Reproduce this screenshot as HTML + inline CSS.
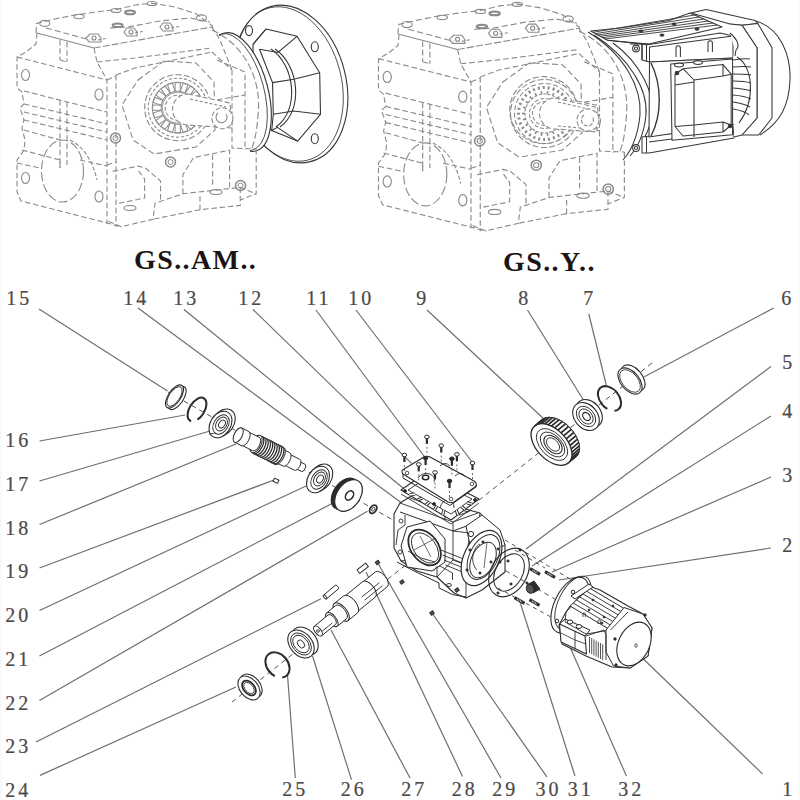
<!DOCTYPE html>
<html><head><meta charset="utf-8"><style>
html,body{margin:0;padding:0;background:#fff;}
svg{display:block;}
.lb{font-family:"Liberation Serif",serif;font-size:20px;fill:#4d4848;letter-spacing:3px;}
.ld{stroke:#716d6d;stroke-width:1.2;fill:none;}
.lb{stroke:#4d4848;stroke-width:0.2;}
.tt{font-family:"Liberation Serif",serif;font-size:28px;font-weight:bold;fill:#1c1414;letter-spacing:1.4px;}
</style></head><body>
<svg width="800" height="800" viewBox="0 0 800 800">

<text class="lb" x="6.2" y="305.2">15</text>
<text class="lb" x="123.2" y="305.2">14</text>
<text class="lb" x="173.2" y="305.2">13</text>
<text class="lb" x="238.2" y="305.2">12</text>
<text class="lb" x="306.2" y="305.2">11</text>
<text class="lb" x="348.2" y="305.2">10</text>
<text class="lb" x="416.2" y="305.2">9</text>
<text class="lb" x="518.2" y="305.2">8</text>
<text class="lb" x="583.2" y="305.2">7</text>
<text class="lb" x="781.2" y="305.2">6</text>
<text class="lb" x="782.2" y="369.0">5</text>
<text class="lb" x="782.2" y="417.7">4</text>
<text class="lb" x="782.2" y="482.2">3</text>
<text class="lb" x="782.2" y="552.2">2</text>
<text class="lb" x="5.2" y="447.2">16</text>
<text class="lb" x="5.2" y="491.0">17</text>
<text class="lb" x="5.2" y="534.7">18</text>
<text class="lb" x="5.2" y="578.2">19</text>
<text class="lb" x="5.2" y="621.7">20</text>
<text class="lb" x="5.2" y="666.2">21</text>
<text class="lb" x="5.2" y="709.8000000000001">22</text>
<text class="lb" x="5.2" y="753.2">23</text>
<text class="lb" x="5.2" y="797.0">24</text>
<text class="lb" x="282.2" y="796.2">25</text>
<text class="lb" x="340.7" y="796.2">26</text>
<text class="lb" x="401.2" y="796.2">27</text>
<text class="lb" x="451.7" y="796.2">28</text>
<text class="lb" x="492.2" y="796.2">29</text>
<text class="lb" x="535.6" y="796.2">30</text>
<text class="lb" x="567.8000000000001" y="796.2">31</text>
<text class="lb" x="618.2" y="796.2">32</text>
<text class="lb" x="782.2" y="796.2">1</text>
<line class="ld" x1="39" y1="309" x2="167.5" y2="391"/>
<line class="ld" x1="138" y1="308" x2="400.3" y2="501.9"/>
<line class="ld" x1="184" y1="309.5" x2="404" y2="488.75"/>
<line class="ld" x1="253" y1="309.5" x2="411.6" y2="463.4"/>
<line class="ld" x1="316" y1="310" x2="424.7" y2="457"/>
<line class="ld" x1="356" y1="310" x2="472.5" y2="462.5"/>
<line class="ld" x1="427" y1="310" x2="545" y2="420"/>
<line class="ld" x1="527.5" y1="310" x2="585" y2="402.5"/>
<line class="ld" x1="588.75" y1="313.75" x2="606.25" y2="385"/>
<line class="ld" x1="773.7" y1="308" x2="644.4" y2="376.7"/>
<line class="ld" x1="771" y1="366.5" x2="526" y2="549"/>
<line class="ld" x1="771" y1="416" x2="532" y2="566"/>
<line class="ld" x1="771" y1="477" x2="552" y2="572"/>
<line class="ld" x1="771" y1="548" x2="559" y2="580"/>
<line class="ld" x1="39.5" y1="441" x2="185" y2="415"/>
<line class="ld" x1="39.5" y1="481" x2="210" y2="431"/>
<line class="ld" x1="39.5" y1="524.5" x2="236" y2="444"/>
<line class="ld" x1="39.5" y1="568" x2="274" y2="480"/>
<line class="ld" x1="39.5" y1="610.5" x2="306" y2="486"/>
<line class="ld" x1="39.4" y1="656" x2="334" y2="502.5"/>
<line class="ld" x1="39.4" y1="700.4" x2="367.5" y2="511.25"/>
<line class="ld" x1="36" y1="742" x2="321" y2="598.75"/>
<line class="ld" x1="40" y1="775.4" x2="236" y2="687"/>
<line class="ld" x1="295.3" y1="778" x2="287.5" y2="675"/>
<line class="ld" x1="351.5" y1="779.7" x2="312.5" y2="656"/>
<line class="ld" x1="410" y1="778" x2="331" y2="630"/>
<line class="ld" x1="462.5" y1="776.5" x2="366" y2="572"/>
<line class="ld" x1="501" y1="778" x2="377.5" y2="562.5"/>
<line class="ld" x1="546.9" y1="776.9" x2="432" y2="613"/>
<line class="ld" x1="575" y1="776" x2="520" y2="602"/>
<line class="ld" x1="626.4" y1="776" x2="560" y2="624"/>
<line class="ld" x1="762.5" y1="773.9" x2="632" y2="648"/>
<!-- edge strips --><rect x="0" y="0" width="2" height="800" fill="#f9f9f9"/><rect x="798" y="0" width="2" height="800" fill="#f9f9f9"/>
<g fill="none" stroke="#3a3535" stroke-width="1.1">
<ellipse cx="291" cy="84" rx="55" ry="80" transform="rotate(-14 291 84)" fill="#fff"/>
<ellipse cx="288.5" cy="84" rx="53" ry="78.5" transform="rotate(-14 288.5 84)" stroke-width="0.8"/>
<ellipse cx="249" cy="30.6" rx="3.5" ry="5"/>
<ellipse cx="314.8" cy="46.8" rx="3.5" ry="5"/>
<ellipse cx="314.8" cy="138.7" rx="3.5" ry="5"/>
<polygon points="266,29 297,36.3 319.7,72.8 320.5,114.3 297.7,141.1 271.7,130.6 253,110 253,44.4" fill="#fff"/>
<polyline points="297,36.3 278,52.5 259.5,49.3"/>
<polyline points="319.7,72.8 293.7,79.3 272.5,82.6"/>
<polyline points="320.5,114.3 293.7,111 273.3,114.3"/>
<polyline points="297.7,141.1 277.4,127.3 271.7,130.6"/>
<polyline points="266,29 253,44.4"/>
<path d="M271,49 C295,65 300,110 276,127"/>
<path d="M275,49 C299,65 304,110 280,127"/>
<polyline points="259.5,49.3 272.5,82.6 273.3,114.3 271.7,130.6"/>
<ellipse cx="240" cy="92" rx="28" ry="61" transform="rotate(-15 240 92)" fill="#fff" stroke="none"/>
<ellipse cx="240" cy="92" rx="28" ry="61" transform="rotate(-15 240 92)" pathLength="100" stroke-dasharray="27 46 27"/>
<ellipse cx="237" cy="92" rx="27" ry="60" transform="rotate(-15 237 92)" pathLength="100" stroke-dasharray="26 48 26" stroke-width="0.8"/>
</g>
<g id="gb" fill="none" stroke="#8a8a8a" stroke-width="1.1" stroke-dasharray="5.5 2.8">
<!-- top face -->
<polyline stroke-dasharray="none" points="37,33 94,48"/>
<polyline stroke-dasharray="7 2" points="94,48 212,27"/>
<polyline stroke-dasharray="6 3" points="36,33 36.5,23.4 55,19 75,15 96,12 116,9.6 135,5 152,3.3 175,7 196,13.75 212.5,26 212.5,28"/>
<polyline stroke-dasharray="6 3" points="46,28 72,35 90,40"/>
<polyline stroke-dasharray="6 3" points="110,28 128,27 160,21 190,18 210,22"/>
<ellipse cx="44.75" cy="23.4" rx="5" ry="3" stroke-dasharray="none"/>
<ellipse cx="79" cy="16.5" rx="5" ry="2.2" stroke-dasharray="none"/>
<ellipse cx="116" cy="10.5" rx="5" ry="2" stroke-dasharray="none"/>
<ellipse cx="152" cy="3.5" rx="5" ry="2" stroke-dasharray="none"/>
<ellipse cx="201.5" cy="17.9" rx="5" ry="3" stroke-dasharray="none"/>
<ellipse cx="117.6" cy="25.3" rx="5" ry="1.8" stroke-dasharray="none" stroke-width="2"/>
<ellipse cx="130" cy="12.4" rx="5" ry="1.8" stroke-dasharray="none" stroke-width="2"/>
<path d="M86,38 l4,-4 h8 l3,4 v4 h-12 z" stroke-dasharray="none"/>
<path d="M124,32 l3,-4 h7 l3,4 v4 h-10 z" stroke-dasharray="none"/>
<path d="M160,27 l3,-4 h7 l3,4 v4 h-10 z" stroke-dasharray="none"/>
<circle cx="94" cy="38" r="2" stroke-dasharray="none"/>
<circle cx="131" cy="32" r="2" stroke-dasharray="none"/>
<circle cx="167" cy="27" r="2" stroke-dasharray="none"/>
<polyline points="98,40 108,38" stroke-dasharray="3 2"/>
<polyline points="135,33 145,31" stroke-dasharray="3 2"/>
<polyline points="171,28 181,26" stroke-dasharray="3 2"/>
<!-- left face -->
<polyline points="37,33 36,44 26,52 17,57 17,88 22,92 24,104 20,108 24,120 22,128 25,140 24,150 17,160 17,192 21,201 111,224 122,227"/>
<polyline points="17,57 107,80"/>
<polyline points="24,91 107,112"/>
<polyline points="24,104 107,124"/>
<polyline points="24,112 107,132"/>
<polyline points="24,120 107,140"/>
<polyline points="24,130 60,140"/>
<polyline points="22,150 60,160 60,168"/>
<polyline points="80,160 107,166"/>
<polyline points="17,163 40,168"/>
<polyline points="60,40 60,60"/>
<polyline points="67,42 67,62"/>
<polyline points="60,100 60,168"/>
<polyline points="67,102 67,165"/>
<polyline points="60,60 67,62"/>
<ellipse cx="25.5" cy="75" rx="4" ry="5.5" stroke-dasharray="none"/>
<ellipse cx="99" cy="94.5" rx="4" ry="5.5" stroke-dasharray="none"/>
<ellipse cx="25.5" cy="178" rx="4" ry="5.5" stroke-dasharray="none"/>
<ellipse cx="99" cy="196.5" rx="4" ry="5.5" stroke-dasharray="none"/>
<ellipse cx="62.5" cy="171" rx="21" ry="31" stroke-dasharray="9 3"/>
<path d="M70,140 q20,10 27,40" stroke-dasharray="4 2"/>
<!-- corner column -->
<polyline points="94,48 97,62 107,80 107,224"/>
<polyline points="116,75 116,227"/>
<polyline points="107,80 116,76"/>
<polyline points="107,165 116,162"/>
<!-- front face -->
<polyline points="116,75 135,68 212,52"/>
<polyline points="97,62 135,58 212,48"/>


<polyline points="112.75,171.4 138.25,166.1 145.7,168.25 153,174.6 160.5,181 160.5,200"/>
<polyline points="119,203.3 144.6,198 144.6,178.9 138,170"/>
<polyline points="108.5,221.4 121.25,226.7 153,219.25 155,203.3 182.9,193.75 240.25,187.4 256,193.75"/>
<polyline points="182.9,193.75 182.9,174.6 193.5,157.6 229.6,150.2 229.6,187.4"/>
<polyline points="212.6,154.4 212.6,187.4"/>
<polyline points="240.25,187.4 240.25,205.4 200,209.7 200,196"/>
<polyline points="200,209.7 153,219.25"/>
<polyline points="256.2,149 256.2,193.75 240.25,200"/>
<polyline points="232,70 232,148 256,149"/>
<polyline points="212,27 220,40 232,70"/>




<polyline points="212,52 232,70"/>
<polygon points="138,80 164,61 196,63 214,82 215,130 196,147 154,154 133,140 122,105" stroke-dasharray="6 3"/>
<circle cx="177.7" cy="107.7" r="33" stroke-dasharray="6 2.5"/>
<circle cx="177.7" cy="107.7" r="29.5" stroke-dasharray="3 2"/>
<circle cx="177.7" cy="107.7" r="25.5" stroke-dasharray="none" stroke-width="0.9"/>
<rect x="175.1" y="82.7" width="5.2" height="8.5" transform="rotate(0 177.7 107.7)" stroke-dasharray="none" stroke-width="1"/><rect x="175.1" y="82.7" width="5.2" height="8.5" transform="rotate(18 177.7 107.7)" stroke-dasharray="none" stroke-width="1"/><rect x="175.1" y="82.7" width="5.2" height="8.5" transform="rotate(36 177.7 107.7)" stroke-dasharray="none" stroke-width="1"/><rect x="175.1" y="82.7" width="5.2" height="8.5" transform="rotate(54 177.7 107.7)" stroke-dasharray="none" stroke-width="1"/><rect x="175.1" y="82.7" width="5.2" height="8.5" transform="rotate(72 177.7 107.7)" stroke-dasharray="none" stroke-width="1"/><rect x="175.1" y="82.7" width="5.2" height="8.5" transform="rotate(90 177.7 107.7)" stroke-dasharray="none" stroke-width="1"/><rect x="175.1" y="82.7" width="5.2" height="8.5" transform="rotate(108 177.7 107.7)" stroke-dasharray="none" stroke-width="1"/><rect x="175.1" y="82.7" width="5.2" height="8.5" transform="rotate(126 177.7 107.7)" stroke-dasharray="none" stroke-width="1"/><rect x="175.1" y="82.7" width="5.2" height="8.5" transform="rotate(144 177.7 107.7)" stroke-dasharray="none" stroke-width="1"/><rect x="175.1" y="82.7" width="5.2" height="8.5" transform="rotate(162 177.7 107.7)" stroke-dasharray="none" stroke-width="1"/><rect x="175.1" y="82.7" width="5.2" height="8.5" transform="rotate(180 177.7 107.7)" stroke-dasharray="none" stroke-width="1"/><rect x="175.1" y="82.7" width="5.2" height="8.5" transform="rotate(198 177.7 107.7)" stroke-dasharray="none" stroke-width="1"/><rect x="175.1" y="82.7" width="5.2" height="8.5" transform="rotate(216 177.7 107.7)" stroke-dasharray="none" stroke-width="1"/><rect x="175.1" y="82.7" width="5.2" height="8.5" transform="rotate(234 177.7 107.7)" stroke-dasharray="none" stroke-width="1"/><rect x="175.1" y="82.7" width="5.2" height="8.5" transform="rotate(252 177.7 107.7)" stroke-dasharray="none" stroke-width="1"/><rect x="175.1" y="82.7" width="5.2" height="8.5" transform="rotate(270 177.7 107.7)" stroke-dasharray="none" stroke-width="1"/><rect x="175.1" y="82.7" width="5.2" height="8.5" transform="rotate(288 177.7 107.7)" stroke-dasharray="none" stroke-width="1"/><rect x="175.1" y="82.7" width="5.2" height="8.5" transform="rotate(306 177.7 107.7)" stroke-dasharray="none" stroke-width="1"/><rect x="175.1" y="82.7" width="5.2" height="8.5" transform="rotate(324 177.7 107.7)" stroke-dasharray="none" stroke-width="1"/><rect x="175.1" y="82.7" width="5.2" height="8.5" transform="rotate(342 177.7 107.7)" stroke-dasharray="none" stroke-width="1"/>
<circle cx="177.7" cy="107.7" r="15.5" stroke-dasharray="none" stroke-width="0.9"/>
<circle cx="177.7" cy="107.7" r="12.5" stroke-dasharray="4 2"/>
<!-- shaft -->
<path d="M188,94 L230,103 L232,128 L188,125 A15.5,15.5 0 0 1 188,94 Z" fill="#fff" stroke-dasharray="5 2.5"/>
<polyline points="190,99 226,107" stroke-dasharray="3 2"/>
<circle cx="222.4" cy="118.3" r="10.5" fill="#fff" stroke-dasharray="5 2"/>
<path d="M218,113 A5.5,5.5 0 1 0 226,114" stroke-dasharray="none"/>
<!-- bosses -->
<circle cx="115.5" cy="138" r="5" stroke-dasharray="none" stroke-width="1.5"/>
<circle cx="115.5" cy="138" r="2.5" stroke-dasharray="none" stroke-width="1"/>
<circle cx="170.5" cy="162" r="5" stroke-dasharray="none" stroke-width="1.5"/>
<circle cx="170.5" cy="162" r="2.5" stroke-dasharray="none" stroke-width="1"/>
<circle cx="240.5" cy="185.5" r="5" stroke-dasharray="none" stroke-width="1.5"/>
<circle cx="240.5" cy="185.5" r="2.5" stroke-dasharray="none" stroke-width="1"/>
<ellipse cx="130" cy="208" rx="6" ry="2.5" stroke-dasharray="none"/>
<ellipse cx="216" cy="192" rx="6" ry="2.5" stroke-dasharray="none"/>
<!-- right arc -->
<path d="M212,30 C245,45 262,80 258,115 C257,130 255,140 252,148" stroke-dasharray="7 3"/>
<polyline points="217,60 245,72 245,150"/>
<polyline points="217,100 245,95"/>
</g>
<use href="#gb" transform="translate(361,0.8) scale(1.028 1.015)"/>
<g fill="none" stroke="#8a8a8a" stroke-width="1.1">
<circle cx="543.5" cy="111.5" r="32" fill="#fff" stroke="none"/>
<circle cx="544.5" cy="113.5" r="34" stroke-dasharray="6 2.5"/>
<circle cx="544.5" cy="113.5" r="30" stroke-dasharray="5 2.5"/>
<circle cx="544.5" cy="113.5" r="26" stroke-dasharray="2 3" stroke-width="3"/>
<circle cx="544.5" cy="113.5" r="19.5" stroke-dasharray="3 1.5"/>
<line x1="564.0" y1="113.5" x2="567.0" y2="113.5" stroke-width="1.6"/>
<line x1="563.2" y1="119.0" x2="566.1" y2="119.8" stroke-width="1.6"/>
<line x1="560.9" y1="124.0" x2="563.4" y2="125.7" stroke-width="1.6"/>
<line x1="557.3" y1="128.2" x2="559.2" y2="130.5" stroke-width="1.6"/>
<line x1="552.6" y1="131.2" x2="553.8" y2="134.0" stroke-width="1.6"/>
<line x1="547.3" y1="132.8" x2="547.7" y2="135.8" stroke-width="1.6"/>
<line x1="541.7" y1="132.8" x2="541.3" y2="135.8" stroke-width="1.6"/>
<line x1="536.4" y1="131.2" x2="535.2" y2="134.0" stroke-width="1.6"/>
<line x1="531.7" y1="128.2" x2="529.8" y2="130.5" stroke-width="1.6"/>
<line x1="528.1" y1="124.0" x2="525.6" y2="125.7" stroke-width="1.6"/>
<line x1="525.8" y1="119.0" x2="522.9" y2="119.8" stroke-width="1.6"/>
<line x1="525.0" y1="113.5" x2="522.0" y2="113.5" stroke-width="1.6"/>
<line x1="525.8" y1="108.0" x2="522.9" y2="107.2" stroke-width="1.6"/>
<line x1="528.1" y1="103.0" x2="525.6" y2="101.3" stroke-width="1.6"/>
<line x1="531.7" y1="98.8" x2="529.8" y2="96.5" stroke-width="1.6"/>
<line x1="536.4" y1="95.8" x2="535.2" y2="93.0" stroke-width="1.6"/>
<line x1="541.7" y1="94.2" x2="541.3" y2="91.2" stroke-width="1.6"/>
<line x1="547.3" y1="94.2" x2="547.7" y2="91.2" stroke-width="1.6"/>
<line x1="552.6" y1="95.8" x2="553.8" y2="93.0" stroke-width="1.6"/>
<line x1="557.3" y1="98.8" x2="559.2" y2="96.5" stroke-width="1.6"/>
<line x1="560.9" y1="103.0" x2="563.4" y2="101.3" stroke-width="1.6"/>
<line x1="563.2" y1="108.0" x2="566.1" y2="107.2" stroke-width="1.6"/>
<circle cx="544.5" cy="113.5" r="15" stroke-dasharray="4 2"/>
<circle cx="544.5" cy="113.5" r="12" stroke-dasharray="4 2"/>
<path d="M555,98 L595,107 L597,132 L555,129 A15.5,15.5 0 0 1 555,98 Z" fill="#fff" stroke-dasharray="5 2.5"/>
<polyline points="558,102 592,110" stroke-dasharray="3 2"/>
<polyline points="558,126 592,129" stroke-dasharray="3 2"/>
<circle cx="588" cy="120" r="11" fill="#fff" stroke-dasharray="5 2"/>
<path d="M584,115 A6,6 0 1 0 592,116" stroke-dasharray="4 1.5"/>
</g><g fill="none" stroke="#3a3535" stroke-width="1.05" stroke-linejoin="round">
<!-- flange disc -->
<path d="M588,32 C625,55 642,88 640,115 C638,135 632,150 623,160 L700,160 L700,20 Z" fill="#fff" stroke="none"/>
<path d="M588,32 C625,55 642,88 640,115 C638,135 632,150 623,160"/>
<path d="M594,35 C630,58 648,90 646,115 C644,135 638,147 630,156"/>
<path d="M613,43 C642,64 654,95 652,112 C651,124 648,132 644,138"/>
<!-- top fins surface -->
<polygon points="590.6,31 620.6,28 669,20.6 690,13 722,27 648.75,44 607.5,40.3" fill="#fff"/>
<line x1="593.0" y1="32.3" x2="694.6" y2="15.0" stroke-width="0.9"/>
<line x1="595.4" y1="33.7" x2="699.1" y2="17.0" stroke-width="0.9"/>
<line x1="597.8" y1="35.0" x2="703.7" y2="19.0" stroke-width="0.9"/>
<line x1="600.3" y1="36.3" x2="708.3" y2="21.0" stroke-width="0.9"/>
<line x1="602.7" y1="37.6" x2="712.9" y2="23.0" stroke-width="0.9"/>
<line x1="605.1" y1="39.0" x2="717.4" y2="25.0" stroke-width="0.9"/>
<polyline points="607.5,40.3 641,44 648.75,44"/>
<ellipse cx="641" cy="31" rx="2" ry="1.1" fill="#333"/>
<ellipse cx="674" cy="24" rx="2" ry="1.1" fill="#333"/>
<ellipse cx="662" cy="35" rx="2" ry="1.1" fill="#333"/>
<ellipse cx="697" cy="29" rx="2" ry="1.1" fill="#333"/>
<!-- frame front face -->
<polygon points="642,44 646.5,45 720,33 733,36 733,58 649.5,62 642,60" fill="#fff"/>
<line x1="646.5" y1="45" x2="646.5" y2="62"/>
<line x1="649.5" y1="47" x2="649.5" y2="62"/>
<line x1="649.5" y1="47" x2="733" y2="36"/>
<path d="M676,57 v-9 a2.2,2.2 0 0 1 4.4,0 v9"/>
<path d="M708,52 v-9 a2.2,2.2 0 0 1 4.4,0 v9"/>
<circle cx="636" cy="48.5" r="3.4" fill="#fff"/>
<circle cx="636" cy="48.5" r="1.6"/>
<polyline points="630,44 642,44 642,60"/>
<!-- lower frame -->
<polygon points="642,137 733,126 734,138 649,153 642,153" fill="#fff"/>
<line x1="646.5" y1="137" x2="646.5" y2="153"/>
<circle cx="636" cy="148" r="3.4" fill="#fff"/>
<circle cx="636" cy="148" r="1.6"/>
<line x1="649" y1="142" x2="734" y2="131"/>
<!-- body between -->
<polygon points="649.5,62 733,58 736,124 649,137" fill="#fff"/>
<path d="M651,63 C662,85 662,115 651,136" stroke-width="1.4"/>
<!-- terminal box -->
<polygon points="670.7,64 732.6,59 732.6,134.7 672,140.2" fill="#fff"/>
<polygon points="675,74.2 683,68.7 723,64.6 731.2,74.2 731.2,125 723,132 683,136 675,126.5"/>
<polyline points="683,68.7 694,80 694,137"/>
<polyline points="694,80 723,76 731.2,74.2"/>
<polyline points="675,85 694,82"/>
<polyline points="694,125 723,122 731.2,125"/>
<polyline points="675,126.5 694,125"/>
<line x1="723" y1="64.6" x2="723" y2="76"/>
<line x1="723" y1="122" x2="723" y2="132"/>
<ellipse cx="679" cy="65" rx="4.5" ry="1.9" fill="#fff"/>
<ellipse cx="698" cy="62.5" rx="4.5" ry="1.9" fill="#fff"/>
<circle cx="677" cy="73" r="1.8" fill="#333"/>
<circle cx="730" cy="126" r="1.8" fill="#333"/>
<!-- fan cover -->
<path d="M756,21 C780,28 791,55 790,80 C789,105 781,122 760,135" fill="#fff"/>
<polygon points="691,13 706,9.4 755,20.6 757.8,23.4 742,25.3 730,24" fill="#fff"/>
<polygon points="742,25.3 757.8,23.4 772,47.8 772,118 758.7,135 742,135 757,118 757,47.8" fill="#fff"/>
<polygon points="730,24 742,25.3 757,47.8 757,118 742,135 734,138 733,58 735,50 730,33" fill="#fff" stroke="none"/>
<polyline points="742,25.3 757,47.8 757,118 742,135"/>
<polyline points="730,24 742,25.3"/>
<polyline points="734,137 742,135"/>
<!-- side fins -->
<path d="M733,60 q12,-2 17,-1"/>
<path d="M733,67 q12,-1 18,0"/>
<path d="M733,74 q12,0 18,1"/>
<path d="M733,81 q12,0 18,2"/>
<path d="M733,88 q12,1 18,3"/>
<path d="M733,95 q12,1 18,4"/>
<path d="M733,102 q12,2 17,5"/>
<path d="M733,109 q12,2 16,6"/>
<path d="M737,57 C753,66 756,100 739,123"/>
<path d="M730,33 C738,40 740,46 736,50 L735,56"/>
</g>
<g fill="none" stroke="#2e2a2a" stroke-width="1" stroke-linejoin="round">
<line x1="168" y1="392" x2="400" y2="524" stroke="#555" stroke-width="1.0" stroke-dasharray="5 4"/>
<ellipse cx="177.1" cy="398.0" rx="13.3" ry="6.2" transform="rotate(-56.0 177.1 398.0)" fill="#fff" stroke-width="1.1" />
<ellipse cx="174.5" cy="396.5" rx="13.3" ry="6.2" transform="rotate(-56.0 174.5 396.5)" fill="#fff" stroke-width="1.1" />
<ellipse cx="174.5" cy="396.5" rx="11.3" ry="5.3" transform="rotate(-56.0 174.5 396.5)" fill="none" stroke-width="0.8800000000000001" />
<ellipse cx="197" cy="409.5" rx="13.2" ry="7.5" transform="rotate(-58 197 409.5)" pathLength="100" stroke-dasharray="38 10 52 0" stroke-width="2"/>
<ellipse cx="223.5" cy="422.5" rx="14.5" ry="10.5" transform="rotate(-58.0 223.5 422.5)" fill="#fff" stroke-width="1.1" />
<ellipse cx="220.5" cy="424.5" rx="14.3" ry="10.2" transform="rotate(-58.0 220.5 424.5)" fill="#fff" stroke-width="1.1" />
<ellipse cx="221.0" cy="424.5" rx="10.5" ry="7.2" transform="rotate(-58.0 221.0 424.5)" fill="none" stroke-width="0.9" />
<ellipse cx="221.5" cy="424.0" rx="7.5" ry="5.2" transform="rotate(-58.0 221.5 424.0)" fill="none" stroke-width="0.9" />
<ellipse cx="222.0" cy="424.0" rx="4.2" ry="3.0" transform="rotate(-58.0 222.0 424.0)" fill="none" stroke-width="0.9" />
<path d="M216,433 L209,434" stroke-width="0.8"/>
<path d="M295.3,468.4 L301.6,471.5 A4.0,2.0 116.8 0 0 305.2,464.4 L299.0,461.2 A4.0,2.0 116.8 0 0 295.3,468.4 Z" fill="#fff" stroke-width="1.0"/>
<ellipse cx="297.2" cy="464.8" rx="4.0" ry="2.0" transform="rotate(116.8 297.2 464.8)" fill="#fff" stroke-width="1.0"/>
<path d="M281.9,463.9 L294.4,470.2 A6.0,3.0 116.8 0 0 299.9,459.4 L287.3,453.1 A6.0,3.0 116.8 0 0 281.9,463.9 Z" fill="#fff" stroke-width="1.0"/>
<ellipse cx="284.6" cy="458.5" rx="6.0" ry="3.0" transform="rotate(116.8 284.6 458.5)" fill="#fff" stroke-width="1.0"/>
<path d="M274.1,461.6 L283.1,466.1 A7.5,3.8 116.8 0 0 289.8,452.7 L280.9,448.2 A7.5,3.8 116.8 0 0 274.1,461.6 Z" fill="#fff" stroke-width="1.0"/>
<ellipse cx="277.5" cy="454.9" rx="7.5" ry="3.8" transform="rotate(116.8 277.5 454.9)" fill="#fff" stroke-width="1.0"/>
<path d="M251.8,452.6 L275.0,464.3 A9.5,4.8 116.8 0 0 283.6,447.3 L260.3,435.6 A9.5,4.8 116.8 0 0 251.8,452.6 Z" fill="#fff" stroke-width="1.0"/>
<ellipse cx="256.1" cy="444.1" rx="9.5" ry="4.8" transform="rotate(116.8 256.1 444.1)" fill="#fff" stroke-width="1.0"/>
<ellipse cx="257.9" cy="445.0" rx="9.6" ry="4.6" transform="rotate(116.8 257.9 445.0)" pathLength="100" stroke-dasharray="0 50 50 0" stroke-width="1.3"/>
<ellipse cx="260.1" cy="446.1" rx="9.6" ry="4.6" transform="rotate(116.8 260.1 446.1)" pathLength="100" stroke-dasharray="0 50 50 0" stroke-width="1.3"/>
<ellipse cx="262.3" cy="447.3" rx="9.6" ry="4.6" transform="rotate(116.8 262.3 447.3)" pathLength="100" stroke-dasharray="0 50 50 0" stroke-width="1.3"/>
<ellipse cx="264.6" cy="448.4" rx="9.6" ry="4.6" transform="rotate(116.8 264.6 448.4)" pathLength="100" stroke-dasharray="0 50 50 0" stroke-width="1.3"/>
<ellipse cx="266.8" cy="449.5" rx="9.6" ry="4.6" transform="rotate(116.8 266.8 449.5)" pathLength="100" stroke-dasharray="0 50 50 0" stroke-width="1.3"/>
<ellipse cx="269.0" cy="450.6" rx="9.6" ry="4.6" transform="rotate(116.8 269.0 450.6)" pathLength="100" stroke-dasharray="0 50 50 0" stroke-width="1.3"/>
<ellipse cx="271.3" cy="451.8" rx="9.6" ry="4.6" transform="rotate(116.8 271.3 451.8)" pathLength="100" stroke-dasharray="0 50 50 0" stroke-width="1.3"/>
<ellipse cx="273.5" cy="452.9" rx="9.6" ry="4.6" transform="rotate(116.8 273.5 452.9)" pathLength="100" stroke-dasharray="0 50 50 0" stroke-width="1.3"/>
<ellipse cx="275.7" cy="454.0" rx="9.6" ry="4.6" transform="rotate(116.8 275.7 454.0)" pathLength="100" stroke-dasharray="0 50 50 0" stroke-width="1.3"/>
<ellipse cx="278.0" cy="455.1" rx="9.6" ry="4.6" transform="rotate(116.8 278.0 455.1)" pathLength="100" stroke-dasharray="0 50 50 0" stroke-width="1.3"/>
<path d="M241.1,444.9 L252.7,450.8 A7.5,3.8 116.8 0 0 259.4,437.4 L247.8,431.6 A7.5,3.8 116.8 0 0 241.1,444.9 Z" fill="#fff" stroke-width="1.0"/>
<ellipse cx="244.5" cy="438.3" rx="7.5" ry="3.8" transform="rotate(116.8 244.5 438.3)" fill="#fff" stroke-width="1.0"/>
<path d="M234.6,442.2 L241.8,445.8 A8.0,4.0 116.8 0 0 249.0,431.6 L241.8,428.0 A8.0,4.0 116.8 0 0 234.6,442.2 Z" fill="#fff" stroke-width="1.0"/>
<ellipse cx="238.2" cy="435.1" rx="8.0" ry="4.0" transform="rotate(116.8 238.2 435.1)" fill="#fff" stroke-width="1.0"/>
<rect x="273.5" y="479" width="5" height="3.5" transform="rotate(25 276 480.7)" fill="#fff" stroke-width="1"/>
<ellipse cx="321.0" cy="477.5" rx="14.5" ry="10.5" transform="rotate(-58.0 321.0 477.5)" fill="#fff" stroke-width="1.1" />
<ellipse cx="318.0" cy="479.5" rx="14.3" ry="10.2" transform="rotate(-58.0 318.0 479.5)" fill="#fff" stroke-width="1.1" />
<ellipse cx="319.0" cy="479.5" rx="10.5" ry="7.2" transform="rotate(-58.0 319.0 479.5)" fill="none" stroke-width="0.9" />
<ellipse cx="319.5" cy="479.0" rx="7.5" ry="5.2" transform="rotate(-58.0 319.5 479.0)" fill="none" stroke-width="0.9" />
<ellipse cx="320.0" cy="479.0" rx="4.2" ry="3.0" transform="rotate(-58.0 320.0 479.0)" fill="none" stroke-width="0.9" />
<ellipse cx="345.1" cy="493.9" rx="17.5" ry="11.5" transform="rotate(-55.0 345.1 493.9)" fill="#2e2a2a" stroke-width="1.2" />
<polygon points="355.1,479.6 355.8,480.1 356.5,480.8 357.1,481.5 357.6,482.3 358.0,483.2 358.3,484.1 358.6,485.1 358.8,486.2 358.9,487.3 358.9,488.4 358.8,489.6 358.6,490.8 358.4,492.0 358.1,493.3 357.6,494.5 357.2,495.7 356.6,497.0 356.0,498.2 355.3,499.4 354.5,500.5 353.7,501.6 352.8,502.7 351.9,503.7 351.0,504.6 350.0,505.5 348.9,506.3 347.9,507.0 346.8,507.7 345.7,508.2 344.7,508.7 343.6,509.1 342.5,509.4 341.5,509.6 340.4,509.7 339.4,509.7 338.5,509.6 337.5,509.4 336.7,509.1 335.8,508.7 335.1,508.2 338.5,509.8 339.2,510.3 340.1,510.7 340.9,511.0 341.9,511.2 342.8,511.3 343.8,511.3 344.9,511.2 345.9,511.0 347.0,510.7 348.1,510.3 349.1,509.8 350.2,509.3 351.3,508.6 352.3,507.9 353.4,507.1 354.4,506.2 355.3,505.3 356.2,504.3 357.1,503.2 357.9,502.1 358.7,501.0 359.4,499.8 360.0,498.6 360.6,497.3 361.0,496.1 361.5,494.9 361.8,493.6 362.0,492.4 362.2,491.2 362.3,490.0 362.3,488.9 362.2,487.8 362.0,486.7 361.7,485.7 361.4,484.8 361.0,483.9 360.5,483.1 359.9,482.4 359.2,481.7 358.5,481.2" fill="#2e2a2a" stroke-width="1"/>
<line x1="357.7" y1="480.6" x2="354.3" y2="479.0" stroke="#bbb" stroke-width="0.6"/>
<line x1="359.0" y1="481.5" x2="355.6" y2="479.9" stroke="#bbb" stroke-width="0.6"/>
<line x1="360.2" y1="482.7" x2="356.8" y2="481.1" stroke="#bbb" stroke-width="0.6"/>
<line x1="361.1" y1="484.1" x2="357.7" y2="482.5" stroke="#bbb" stroke-width="0.6"/>
<line x1="361.7" y1="485.7" x2="358.3" y2="484.1" stroke="#bbb" stroke-width="0.6"/>
<line x1="362.1" y1="487.5" x2="358.7" y2="485.9" stroke="#bbb" stroke-width="0.6"/>
<line x1="362.3" y1="489.5" x2="358.9" y2="487.9" stroke="#bbb" stroke-width="0.6"/>
<line x1="362.1" y1="491.6" x2="358.7" y2="490.0" stroke="#bbb" stroke-width="0.6"/>
<line x1="361.7" y1="493.8" x2="358.3" y2="492.2" stroke="#bbb" stroke-width="0.6"/>
<line x1="361.1" y1="496.0" x2="357.7" y2="494.4" stroke="#bbb" stroke-width="0.6"/>
<line x1="360.2" y1="498.2" x2="356.8" y2="496.6" stroke="#bbb" stroke-width="0.6"/>
<line x1="359.1" y1="500.3" x2="355.7" y2="498.7" stroke="#bbb" stroke-width="0.6"/>
<line x1="357.7" y1="502.3" x2="354.3" y2="500.7" stroke="#bbb" stroke-width="0.6"/>
<line x1="356.2" y1="504.3" x2="352.8" y2="502.7" stroke="#bbb" stroke-width="0.6"/>
<line x1="354.6" y1="506.0" x2="351.2" y2="504.4" stroke="#bbb" stroke-width="0.6"/>
<line x1="352.8" y1="507.5" x2="349.4" y2="505.9" stroke="#bbb" stroke-width="0.6"/>
<line x1="350.9" y1="508.8" x2="347.5" y2="507.2" stroke="#bbb" stroke-width="0.6"/>
<line x1="349.0" y1="509.9" x2="345.6" y2="508.3" stroke="#bbb" stroke-width="0.6"/>
<line x1="347.1" y1="510.6" x2="343.7" y2="509.0" stroke="#bbb" stroke-width="0.6"/>
<line x1="345.2" y1="511.1" x2="341.8" y2="509.5" stroke="#bbb" stroke-width="0.6"/>
<line x1="343.4" y1="511.3" x2="340.0" y2="509.7" stroke="#bbb" stroke-width="0.6"/>
<line x1="341.7" y1="511.1" x2="338.3" y2="509.5" stroke="#bbb" stroke-width="0.6"/>
<line x1="340.1" y1="510.7" x2="336.7" y2="509.1" stroke="#bbb" stroke-width="0.6"/>
<line x1="338.6" y1="509.9" x2="335.2" y2="508.3" stroke="#bbb" stroke-width="0.6"/>
<ellipse cx="348.5" cy="495.5" rx="17.5" ry="11.5" transform="rotate(-55.0 348.5 495.5)" fill="#fff" stroke-width="1.1" />
<ellipse cx="349.5" cy="495.5" rx="5.0" ry="3.6" transform="rotate(-55.0 349.5 495.5)" fill="#fff" stroke-width="1.6" />
<ellipse cx="373.2" cy="509.2" rx="4.6" ry="3.0" transform="rotate(-55.0 373.2 509.2)" fill="#fff" stroke-width="1.8" />
<ellipse cx="373.2" cy="509.2" rx="2.2" ry="1.3" transform="rotate(-55.0 373.2 509.2)" fill="#fff" stroke-width="0.8" />
<line x1="652" y1="363" x2="478" y2="501" stroke="#555" stroke-width="1.0" stroke-dasharray="5 4"/>
<ellipse cx="633.0" cy="378.0" rx="15.2" ry="9.2" transform="rotate(50.0 633.0 378.0)" fill="#fff" stroke-width="1.1" />
<ellipse cx="630.0" cy="381.0" rx="15.2" ry="9.2" transform="rotate(50.0 630.0 381.0)" fill="#fff" stroke-width="1.1" />
<ellipse cx="630.0" cy="381.0" rx="13.2" ry="7.8" transform="rotate(50.0 630.0 381.0)" fill="none" stroke-width="0.8" />
<ellipse cx="609.5" cy="398.5" rx="14" ry="9.5" transform="rotate(50 609.5 398.5)" pathLength="100" stroke-dasharray="6 10 84 0" stroke-width="2"/>
<ellipse cx="589.0" cy="413.5" rx="15.5" ry="11.5" transform="rotate(50.0 589.0 413.5)" fill="#fff" stroke-width="1.1" />
<ellipse cx="586.0" cy="416.5" rx="15.5" ry="11.5" transform="rotate(50.0 586.0 416.5)" fill="#fff" stroke-width="1.1" />
<ellipse cx="586.0" cy="416.5" rx="11.5" ry="8.2" transform="rotate(50.0 586.0 416.5)" fill="none" stroke-width="0.9" />
<ellipse cx="586.0" cy="416.5" rx="8.5" ry="6.0" transform="rotate(50.0 586.0 416.5)" fill="none" stroke-width="0.9" />
<ellipse cx="586.5" cy="416.5" rx="4.5" ry="3.2" transform="rotate(50.0 586.5 416.5)" fill="none" stroke-width="1.2" />
<ellipse cx="564.0" cy="434.0" rx="12.0" ry="8.5" transform="rotate(46.0 564.0 434.0)" fill="#fff" stroke-width="1.0" />
<ellipse cx="559.0" cy="438.2" rx="25.0" ry="15.0" transform="rotate(46.0 559.0 438.2)" fill="#fff" stroke-width="1.1" />
<polygon points="540.8,421.2 541.6,420.3 542.5,419.5 543.6,418.8 544.8,418.2 546.0,417.8 547.4,417.6 548.8,417.4 550.3,417.4 551.9,417.6 553.5,417.9 555.1,418.3 556.8,418.9 558.5,419.6 560.2,420.5 561.9,421.4 563.5,422.5 565.2,423.7 566.8,425.0 568.3,426.3 569.8,427.8 571.2,429.3 572.5,430.9 573.7,432.5 574.9,434.2 575.9,435.9 576.8,437.6 577.5,439.3 578.2,441.1 578.7,442.8 579.1,444.4 579.3,446.0 579.4,447.6 579.4,449.1 579.2,450.5 578.9,451.9 578.5,453.1 577.9,454.3 577.2,455.3 576.3,456.2 575.4,457.0 567.9,463.3 568.8,462.5 569.7,461.6 570.4,460.6 571.0,459.4 571.4,458.2 571.7,456.8 571.9,455.4 571.9,453.9 571.8,452.3 571.6,450.7 571.2,449.1 570.7,447.4 570.0,445.6 569.3,443.9 568.4,442.2 567.4,440.5 566.2,438.8 565.0,437.2 563.7,435.6 562.3,434.1 560.8,432.6 559.3,431.3 557.7,430.0 556.0,428.8 554.4,427.7 552.7,426.8 551.0,425.9 549.3,425.2 547.6,424.6 546.0,424.2 544.4,423.9 542.8,423.7 541.3,423.7 539.9,423.9 538.5,424.1 537.3,424.5 536.1,425.1 535.0,425.8 534.1,426.6 533.3,427.5" fill="#fff" stroke-width="1"/>
<line x1="534.5" y1="426.2" x2="542.0" y2="419.9" stroke-width="1.7"/>
<line x1="536.6" y1="424.8" x2="544.1" y2="418.5" stroke-width="1.7"/>
<line x1="539.0" y1="424.0" x2="546.5" y2="417.7" stroke-width="1.7"/>
<line x1="541.8" y1="423.7" x2="549.3" y2="417.4" stroke-width="1.7"/>
<line x1="544.9" y1="424.0" x2="552.4" y2="417.7" stroke-width="1.7"/>
<line x1="548.1" y1="424.8" x2="555.6" y2="418.5" stroke-width="1.7"/>
<line x1="551.4" y1="426.1" x2="558.9" y2="419.8" stroke-width="1.7"/>
<line x1="554.7" y1="427.9" x2="562.2" y2="421.6" stroke-width="1.7"/>
<line x1="557.9" y1="430.1" x2="565.4" y2="423.8" stroke-width="1.7"/>
<line x1="561.0" y1="432.8" x2="568.5" y2="426.5" stroke-width="1.7"/>
<line x1="563.8" y1="435.7" x2="571.3" y2="429.4" stroke-width="1.7"/>
<line x1="566.2" y1="438.8" x2="573.7" y2="432.5" stroke-width="1.7"/>
<line x1="568.3" y1="442.2" x2="575.8" y2="435.9" stroke-width="1.7"/>
<line x1="570.0" y1="445.5" x2="577.5" y2="439.2" stroke-width="1.7"/>
<line x1="571.2" y1="448.9" x2="578.7" y2="442.6" stroke-width="1.7"/>
<line x1="571.8" y1="452.1" x2="579.3" y2="445.8" stroke-width="1.7"/>
<line x1="571.9" y1="455.1" x2="579.4" y2="448.8" stroke-width="1.7"/>
<line x1="571.5" y1="457.9" x2="579.0" y2="451.6" stroke-width="1.7"/>
<line x1="570.6" y1="460.3" x2="578.1" y2="454.0" stroke-width="1.7"/>
<line x1="569.1" y1="462.2" x2="576.6" y2="455.9" stroke-width="1.7"/>
<ellipse cx="551.5" cy="444.5" rx="25.0" ry="15.0" transform="rotate(46.0 551.5 444.5)" fill="#fff" stroke-width="1.3" />
<ellipse cx="552.0" cy="444.5" rx="19.0" ry="11.5" transform="rotate(46.0 552.0 444.5)" fill="none" stroke-width="0.9" />
<ellipse cx="552.5" cy="444.5" rx="15.0" ry="9.0" transform="rotate(46.0 552.5 444.5)" fill="none" stroke-width="0.9" />
<ellipse cx="553.0" cy="444.5" rx="11.0" ry="7.0" transform="rotate(46.0 553.0 444.5)" fill="none" stroke-width="1.1" />
<ellipse cx="553.0" cy="444.5" rx="8.0" ry="5.0" transform="rotate(46.0 553.0 444.5)" fill="none" stroke-width="0.9" />
<line x1="232" y1="702" x2="440" y2="538" stroke="#555" stroke-width="1.0" stroke-dasharray="5 4"/>
<ellipse cx="251.0" cy="686.0" rx="13.6" ry="9.0" transform="rotate(50.0 251.0 686.0)" fill="#fff" stroke-width="1.1" />
<ellipse cx="249.0" cy="688.0" rx="13.6" ry="9.0" transform="rotate(50.0 249.0 688.0)" fill="#fff" stroke-width="1.1" />
<ellipse cx="249.0" cy="688.0" rx="8.5" ry="5.5" transform="rotate(50.0 249.0 688.0)" fill="none" stroke-width="1.8" />
<ellipse cx="249.0" cy="688.0" rx="6.5" ry="4.0" transform="rotate(50.0 249.0 688.0)" fill="none" stroke-width="0.8" />
<ellipse cx="277.5" cy="665" rx="14" ry="10.5" transform="rotate(50 277.5 665)" pathLength="100" stroke-dasharray="6 10 84 0" stroke-width="2"/>
<ellipse cx="305.0" cy="641.0" rx="15.8" ry="11.0" transform="rotate(50.0 305.0 641.0)" fill="#fff" stroke-width="1.1" />
<ellipse cx="301.0" cy="644.0" rx="15.8" ry="11.0" transform="rotate(50.0 301.0 644.0)" fill="#fff" stroke-width="1.1" />
<ellipse cx="301.0" cy="644.0" rx="12.5" ry="8.6" transform="rotate(50.0 301.0 644.0)" fill="none" stroke-width="0.9" />
<ellipse cx="301.0" cy="644.0" rx="10.0" ry="6.8" transform="rotate(50.0 301.0 644.0)" fill="none" stroke-width="0.9" />
<ellipse cx="301.0" cy="644.0" rx="4.5" ry="3.0" transform="rotate(50.0 301.0 644.0)" fill="none" stroke-width="0.9" />
<path d="M375.1,596.6 L387.5,586.5 A9.5,4.8 50.8 0 0 375.5,571.8 L363.1,581.9 A9.5,4.8 50.8 0 0 375.1,596.6 Z" fill="#fff" stroke-width="1.0"/>
<ellipse cx="369.1" cy="589.3" rx="9.5" ry="4.8" transform="rotate(50.8 369.1 589.3)" fill="#fff" stroke-width="1.0"/>
<path d="M356.9,612.2 L375.4,597.0 A10.0,5.0 50.8 0 0 362.8,581.5 L344.2,596.7 A10.0,5.0 50.8 0 0 356.9,612.2 Z" fill="#fff" stroke-width="1.0"/>
<ellipse cx="350.5" cy="604.4" rx="10.0" ry="5.0" transform="rotate(50.8 350.5 604.4)" fill="#fff" stroke-width="1.0"/>
<path d="M348.2,620.5 L357.5,613.0 A11.0,5.5 50.8 0 0 343.6,595.9 L334.3,603.5 A11.0,5.5 50.8 0 0 348.2,620.5 Z" fill="#fff" stroke-width="1.0"/>
<ellipse cx="341.2" cy="612.0" rx="11.0" ry="5.5" transform="rotate(50.8 341.2 612.0)" fill="#fff" stroke-width="1.0"/>
<path d="M337.3,626.2 L346.6,618.6 A8.5,4.2 50.8 0 0 335.9,605.4 L326.6,613.0 A8.5,4.2 50.8 0 0 337.3,626.2 Z" fill="#fff" stroke-width="1.0"/>
<ellipse cx="331.9" cy="619.6" rx="8.5" ry="4.2" transform="rotate(50.8 331.9 619.6)" fill="#fff" stroke-width="1.0"/>
<path d="M321.8,635.6 L335.7,624.3 A6.0,3.0 50.8 0 0 328.1,615.0 L314.2,626.4 A6.0,3.0 50.8 0 0 321.8,635.6 Z" fill="#fff" stroke-width="1.0"/>
<ellipse cx="318.0" cy="631.0" rx="6.0" ry="3.0" transform="rotate(50.8 318.0 631.0)" fill="#fff" stroke-width="1.0"/>
<ellipse cx="318" cy="631" rx="1.5" ry="1.2" stroke-width="0.9"/>
<line x1="322.3" y1="631.1" x2="332.4" y2="622.9" stroke-width="0.9"/>
<line x1="364.6" y1="600.2" x2="382.4" y2="585.7" stroke-width="0.9"/>
<line x1="361.6" y1="597.2" x2="379.4" y2="582.7" stroke-width="0.9"/>
<rect x="357" y="566" width="11" height="4.5" transform="rotate(-38 362.5 568)" fill="#fff" stroke-width="1"/>
<path d="M326.5,598.8 L338.5,588.8 A2.4,1.2 50.2 0 0 335.5,585.2 L323.5,595.2 A2.4,1.2 50.2 0 0 326.5,598.8 Z" fill="#fff" stroke-width="1.0"/>
<ellipse cx="325.0" cy="597.0" rx="2.4" ry="1.2" transform="rotate(50.2 325.0 597.0)" fill="#fff" stroke-width="1.0"/>
<line x1="482" y1="557" x2="560" y2="602" stroke="#555" stroke-width="1.0" stroke-dasharray="5 4"/>
<line x1="505" y1="540" x2="575" y2="582" stroke="#555" stroke-width="1.0" stroke-dasharray="4 4"/>
<line x1="498" y1="588" x2="560" y2="622" stroke="#555" stroke-width="1.0" stroke-dasharray="4 4"/>
<line x1="515" y1="550" x2="545" y2="568" stroke="#555" stroke-width="1.0" stroke-dasharray="4 4"/>
<polygon points="394,514 400,503 413,495 480,513 492,527 505,545 505,572 482,590 466,598 454,593 437,577 417,571 401,561 394,548" fill="#fff" stroke-width="1.1"/>
<polyline points="400,512 453,531 480,521" stroke-width="1"/>
<polyline points="400,503 453,522 478,513" stroke-width="0.9"/>
<polyline points="453,522 453,531" stroke-width="0.9"/>
<polyline points="405,515 405,525 398,530 396,545" stroke-width="0.9"/>
<circle cx="401" cy="521" r="2" stroke-width="0.9"/>
<circle cx="400" cy="552" r="2" stroke-width="0.9"/>
<polyline points="410,498 460,515 470,511" stroke-width="0.9"/>
<polyline points="420,496 468,512" stroke-width="0.9"/>
<polyline points="445,510 445,520" stroke-width="0.9"/>
<polyline points="453,531 453,560 437,577" stroke-width="0.9"/>
<polyline points="453,560 466,565 466,598" stroke-width="0.9"/>
<polyline points="401,561 420,558 437,562 437,577" stroke-width="0.9"/>
<polyline points="412,566 435,570" stroke-width="0.9"/>
<ellipse cx="415" cy="566" rx="2.5" ry="1.5" stroke-width="0.9"/>
<ellipse cx="449" cy="585" rx="2.5" ry="1.5" stroke-width="0.9"/>
<polygon points="407,527 430,521 445,539 445,562 432,571 407,567 401,546" fill="#fff" stroke-width="1.0"/>
<ellipse cx="424.6" cy="547.5" rx="20.0" ry="13.5" transform="rotate(52.0 424.6 547.5)" fill="#fff" stroke-width="1.8" />
<ellipse cx="425.0" cy="548.0" rx="17.0" ry="11.0" transform="rotate(52.0 425.0 548.0)" fill="none" stroke-width="0.9" />
<line x1="414" y1="550" x2="436" y2="538" stroke-width="0.7"/>
<line x1="420" y1="536" x2="431" y2="557" stroke-width="0.7"/>
<polyline points="480,513 478,525 470,533 466,560" stroke-width="0.9"/>
<polyline points="453,531 470,533" stroke-width="0.9"/>
<polyline points="482,521 490,522 500,532" stroke-width="0.9"/>
<circle cx="478" cy="533" r="2.5" stroke-width="0.9"/>
<line x1="441.0" y1="550.0" x2="466.0" y2="560.0" stroke-width="0.9"/>
<line x1="442.5" y1="555.0" x2="466.0" y2="564.5" stroke-width="0.9"/>
<line x1="444.0" y1="560.0" x2="466.0" y2="569.0" stroke-width="0.9"/>
<line x1="445.5" y1="565.0" x2="466.0" y2="573.5" stroke-width="0.9"/>
<polyline points="435.6,567.6 440,566 452.5,573 452.5,580" stroke-width="0.9"/>
<polyline points="397,562 414,571 439,583 439,588 452.5,594.6 466,597" stroke-width="1"/>
<polyline points="408,551 421,558 435,562" stroke-width="0.9"/>
<polygon points="466,526 482,515 500,530 505,545 485,556 470,545" fill="#fff" stroke-width="1"/>
<circle cx="471" cy="534" r="2.6" stroke-width="1"/>
<ellipse cx="481.5" cy="558.0" rx="29.5" ry="17.5" transform="rotate(-64.0 481.5 558.0)" fill="#fff" stroke-width="1.2" />
<ellipse cx="483.5" cy="557.0" rx="24.0" ry="14.0" transform="rotate(-64.0 483.5 557.0)" fill="none" stroke-width="1.0" />
<ellipse cx="483.0" cy="560.0" rx="19.0" ry="11.5" transform="rotate(-64.0 483.0 560.0)" fill="#fff" stroke-width="1.0" />
<path d="M477,570 C470,563 472,548 480,544" stroke-width="0.9"/>
<line x1="487" y1="542" x2="484" y2="568" stroke-width="0.7"/>
<circle cx="483" cy="542" r="1.1" fill="#2e2a2a"/>
<circle cx="498" cy="549" r="1.1" fill="#2e2a2a"/>
<circle cx="480" cy="573" r="1.1" fill="#2e2a2a"/>
<circle cx="467" cy="570" r="1.1" fill="#2e2a2a"/>
<circle cx="500" cy="562" r="1.1" fill="#2e2a2a"/>
<circle cx="470" cy="550" r="1.1" fill="#2e2a2a"/>
<rect x="375.7" y="561.0" width="3.6" height="3" transform="rotate(-35 377.5 562.5)" fill="#555" stroke-width="1"/>
<rect x="430.2" y="611.5" width="3.6" height="3" transform="rotate(-35 432 613)" fill="#555" stroke-width="1"/>
<rect x="400.2" y="580.5" width="3.6" height="3" transform="rotate(-35 402 582)" fill="#555" stroke-width="1"/>
<rect x="455.2" y="588.5" width="3.6" height="3" transform="rotate(-35 457 590)" fill="#555" stroke-width="1"/>
<line x1="426" y1="472" x2="426" y2="500" stroke="#555" stroke-width="0.8" stroke-dasharray="3 2.5"/>
<polygon points="401,490 427,472 479,499 451,520" fill="#fff" stroke-width="1.1"/>
<polygon points="408,490 428,477 472,499 451,514" fill="#fff" stroke-width="0.9"/>
<line x1="409.3" y1="495.0" x2="415.2" y2="494.0" stroke-width="3.2"/>
<line x1="409.3" y1="495.0" x2="415.2" y2="494.0" stroke="#fff" stroke-width="1.3"/>
<line x1="417.7" y1="500.0" x2="422.3" y2="498.0" stroke-width="3.2"/>
<line x1="417.7" y1="500.0" x2="422.3" y2="498.0" stroke="#fff" stroke-width="1.3"/>
<line x1="426.0" y1="505.0" x2="429.5" y2="502.0" stroke-width="3.2"/>
<line x1="426.0" y1="505.0" x2="429.5" y2="502.0" stroke="#fff" stroke-width="1.3"/>
<line x1="434.3" y1="510.0" x2="436.7" y2="506.0" stroke-width="3.2"/>
<line x1="434.3" y1="510.0" x2="436.7" y2="506.0" stroke="#fff" stroke-width="1.3"/>
<line x1="442.7" y1="515.0" x2="443.8" y2="510.0" stroke-width="3.2"/>
<line x1="442.7" y1="515.0" x2="443.8" y2="510.0" stroke="#fff" stroke-width="1.3"/>
<line x1="458.0" y1="514.8" x2="456.2" y2="510.2" stroke-width="3.2"/>
<line x1="458.0" y1="514.8" x2="456.2" y2="510.2" stroke="#fff" stroke-width="1.3"/>
<line x1="465.0" y1="509.5" x2="461.5" y2="506.5" stroke-width="3.2"/>
<line x1="465.0" y1="509.5" x2="461.5" y2="506.5" stroke="#fff" stroke-width="1.3"/>
<line x1="472.0" y1="504.2" x2="466.8" y2="502.8" stroke-width="3.2"/>
<line x1="472.0" y1="504.2" x2="466.8" y2="502.8" stroke="#fff" stroke-width="1.3"/>
<polyline points="401,494 451,524 479,503" stroke-width="0.9"/>
<path d="M440,508 q2,-8 8,-8 q6,0 6,8" stroke-width="0.9"/>
<circle cx="405" cy="491" r="1.4" fill="#2e2a2a"/>
<circle cx="434" cy="504" r="1.4" fill="#2e2a2a"/>
<circle cx="475" cy="500" r="1.4" fill="#2e2a2a"/>
<path d="M403,478 L450,505.5 L476,487" stroke-width="1"/>
<path d="M403,474 C401,472 402,470 404,469 L424,457 C426,456 428,456 430,457 L474,481 C477,483 477,486 475,487 L454,502 C452,503 450,503 448,502 Z" fill="#fff" stroke-width="1.1"/>
<path d="M403,474 L403,478" stroke-width="1"/>
<path d="M476,485 L476,487" stroke-width="1"/>
<path d="M418,478 q4,-6 12,-4 q6,3 4,8" stroke-width="0.9"/>
<path d="M440,466 q5,-5 10,0" stroke-width="0.9"/>
<path d="M455,476 q5,-5 10,0" stroke-width="0.9"/>
<circle cx="407" cy="473" r="1.8" stroke-width="0.8"/>
<circle cx="472" cy="484" r="1.8" stroke-width="0.8"/>
<circle cx="451" cy="499" r="1.8" stroke-width="0.8"/>
<ellipse cx="425.6" cy="477.5" rx="3.2" ry="2.2" transform="rotate(0.0 425.6 477.5)" fill="#fff" stroke-width="1.5" />
<line x1="426.9" y1="436.9" x2="426.9" y2="443.9" stroke-width="2.2"/>
<ellipse cx="426.9" cy="436.9" rx="2.3" ry="1.8" fill="#fff" stroke-width="1"/>
<line x1="426.9" y1="446.9" x2="426.9" y2="454.9" stroke-width="0.7" stroke-dasharray="2 2"/>
<line x1="441.25" y1="445.6" x2="441.25" y2="452.6" stroke-width="2.2"/>
<ellipse cx="441.25" cy="445.6" rx="2.3" ry="1.8" fill="#fff" stroke-width="1"/>
<line x1="441.25" y1="455.6" x2="441.25" y2="463.6" stroke-width="0.7" stroke-dasharray="2 2"/>
<line x1="404.4" y1="455" x2="404.4" y2="462" stroke-width="2.2"/>
<ellipse cx="404.4" cy="455" rx="2.3" ry="1.8" fill="#fff" stroke-width="1"/>
<line x1="404.4" y1="465" x2="404.4" y2="473" stroke-width="0.7" stroke-dasharray="2 2"/>
<line x1="425.6" y1="458.1" x2="425.6" y2="465.1" stroke-width="2.2"/>
<ellipse cx="425.6" cy="458.1" rx="2.3" ry="1.8" fill="#2e2a2a" stroke-width="1"/>
<line x1="425.6" y1="468.1" x2="425.6" y2="476.1" stroke-width="0.7" stroke-dasharray="2 2"/>
<line x1="456.9" y1="454.4" x2="456.9" y2="461.4" stroke-width="2.2"/>
<ellipse cx="456.9" cy="454.4" rx="2.3" ry="1.8" fill="#fff" stroke-width="1"/>
<line x1="456.9" y1="464.4" x2="456.9" y2="472.4" stroke-width="0.7" stroke-dasharray="2 2"/>
<line x1="451.9" y1="458.75" x2="451.9" y2="465.75" stroke-width="2.2"/>
<ellipse cx="451.9" cy="458.75" rx="2.3" ry="1.8" fill="#2e2a2a" stroke-width="1"/>
<line x1="451.9" y1="468.75" x2="451.9" y2="476.75" stroke-width="0.7" stroke-dasharray="2 2"/>
<line x1="472.5" y1="463" x2="472.5" y2="470" stroke-width="2.2"/>
<ellipse cx="472.5" cy="463" rx="2.3" ry="1.8" fill="#fff" stroke-width="1"/>
<line x1="472.5" y1="473" x2="472.5" y2="481" stroke-width="0.7" stroke-dasharray="2 2"/>
<line x1="418.75" y1="464.4" x2="418.75" y2="471.4" stroke-width="2.2"/>
<ellipse cx="418.75" cy="464.4" rx="2.3" ry="1.8" fill="#fff" stroke-width="1"/>
<line x1="418.75" y1="474.4" x2="418.75" y2="482.4" stroke-width="0.7" stroke-dasharray="2 2"/>
<line x1="435" y1="472.5" x2="435" y2="479.5" stroke-width="2.2"/>
<ellipse cx="435" cy="472.5" rx="2.3" ry="1.8" fill="#fff" stroke-width="1"/>
<line x1="435" y1="482.5" x2="435" y2="490.5" stroke-width="0.7" stroke-dasharray="2 2"/>
<line x1="449.5" y1="481" x2="449.5" y2="488" stroke-width="2.2"/>
<ellipse cx="449.5" cy="481" rx="2.3" ry="1.8" fill="#2e2a2a" stroke-width="1"/>
<line x1="449.5" y1="491" x2="449.5" y2="499" stroke-width="0.7" stroke-dasharray="2 2"/>
<ellipse cx="509.0" cy="572.5" rx="26.0" ry="18.0" transform="rotate(-60.0 509.0 572.5)" fill="none" stroke-width="1.1" />
<ellipse cx="509.0" cy="572.5" rx="20.0" ry="13.5" transform="rotate(-60.0 509.0 572.5)" fill="none" stroke-width="1.0" />
<circle cx="520" cy="550" r="1.1" fill="#2e2a2a"/>
<circle cx="527" cy="583" r="1.1" fill="#2e2a2a"/>
<circle cx="498" cy="593" r="1.1" fill="#2e2a2a"/>
<circle cx="491" cy="562" r="1.1" fill="#2e2a2a"/>
<circle cx="508" cy="561" r="1.1" fill="#2e2a2a"/>
<circle cx="511" cy="584" r="1.1" fill="#2e2a2a"/>
<line x1="530" y1="568.6" x2="540" y2="574.4" stroke-width="3.2"/>
<line x1="532.5" y1="570.05" x2="537.5" y2="572.95" stroke="#fff" stroke-width="1.4" stroke-dasharray="0.9 0.9"/>
<line x1="545" y1="571.6" x2="555" y2="577.4" stroke-width="3.2"/>
<line x1="547.5" y1="573.05" x2="552.5" y2="575.95" stroke="#fff" stroke-width="1.4" stroke-dasharray="0.9 0.9"/>
<line x1="514.5" y1="597.6" x2="524.5" y2="603.4" stroke-width="3.2"/>
<line x1="517.0" y1="599.05" x2="522.0" y2="601.95" stroke="#fff" stroke-width="1.4" stroke-dasharray="0.9 0.9"/>
<line x1="529.5" y1="599.6" x2="539.5" y2="605.4" stroke-width="3.2"/>
<line x1="532.0" y1="601.05" x2="537.0" y2="603.95" stroke="#fff" stroke-width="1.4" stroke-dasharray="0.9 0.9"/>
<path d="M527,585 L534,581 L540,589 L533,593 Z" fill="#2e2a2a" stroke-width="1"/>
<ellipse cx="530" cy="589" rx="3.5" ry="4.5" transform="rotate(-30 530 589)" fill="#555" stroke-width="1"/>
<ellipse cx="570.0" cy="605.0" rx="30.0" ry="15.5" transform="rotate(-64.0 570.0 605.0)" fill="#fff" stroke-width="1.1" />
<ellipse cx="573.0" cy="603.0" rx="29.0" ry="14.5" transform="rotate(-64.0 573.0 603.0)" fill="none" stroke-width="0.9" />
<polygon points="566,612 589,586 600,590 628,606 643,614 652,628 648,656 630,668 612,667 586,656 562,644 559,625" fill="#fff" stroke-width="1.1"/>
<polygon points="570,606 589.5,588 630,612 610.5,630" fill="#fff" stroke-width="1"/>
<line x1="573.2" y1="603.0" x2="613.8" y2="627.0" stroke-width="0.9"/>
<line x1="576.5" y1="600.0" x2="617.0" y2="624.0" stroke-width="0.9"/>
<line x1="579.8" y1="597.0" x2="620.2" y2="621.0" stroke-width="0.9"/>
<line x1="583.0" y1="594.0" x2="623.5" y2="618.0" stroke-width="0.9"/>
<line x1="586.2" y1="591.0" x2="626.8" y2="615.0" stroke-width="0.9"/>
<polygon points="571,596 589,584 593,587 575,599" fill="#fff" stroke-width="1"/>
<circle cx="593" cy="600" r="0.9" fill="#2e2a2a"/>
<circle cx="613" cy="606" r="0.9" fill="#2e2a2a"/>
<circle cx="589" cy="610" r="0.9" fill="#2e2a2a"/>
<circle cx="604" cy="617" r="0.9" fill="#2e2a2a"/>
<circle cx="602" cy="623" r="0.9" fill="#2e2a2a"/>
<circle cx="573" cy="592" r="1.8" stroke-width="1"/>
<circle cx="557" cy="621" r="1.8" stroke-width="1"/>
<polyline points="570,606 566,612 565,622 586,634 610.5,630" stroke-width="0.9"/>
<path d="M583,617 v-3 a1.2,1.2 0 0 1 2.4,0 v3" stroke-width="0.8"/>
<path d="M598,624 v-3 a1.2,1.2 0 0 1 2.4,0 v3" stroke-width="0.8"/>
<polygon points="606,630 624,607.5 643,614 652,628 648,656 630,668 613.5,666 606,652" fill="#fff" stroke-width="1"/>
<polyline points="610.5,630 628,612" stroke-width="0.9"/>
<ellipse cx="634.0" cy="644.0" rx="23.0" ry="15.5" transform="rotate(-64.0 634.0 644.0)" fill="#fff" stroke-width="1.1" />
<ellipse cx="636" cy="645.5" rx="1.2" ry="1.8" stroke-width="0.8"/>
<circle cx="615" cy="639" r="1.2" fill="#2e2a2a"/><circle cx="616" cy="665" r="1.2" fill="#2e2a2a"/><circle cx="645" cy="615" r="1.2" fill="#2e2a2a"/>
<polygon points="559.5,624 585,636 586.5,654 561,642" fill="#fff" stroke-width="1.1"/>
<polyline points="559.5,624 565,619 590,630 585,636" stroke-width="1"/>
<polyline points="575,631 575,649" stroke-width="0.9"/>
<polyline points="561,633 575,640 586,644" stroke-width="0.8"/>
<ellipse cx="570.0" cy="622.0" rx="2.8" ry="2.0" transform="rotate(0.0 570.0 622.0)" fill="#fff" stroke-width="1.0" />
<ellipse cx="579.0" cy="626.5" rx="2.8" ry="2.0" transform="rotate(0.0 579.0 626.5)" fill="#fff" stroke-width="1.0" />
<line x1="589.5" y1="637.0" x2="589.5" y2="653.0" stroke-width="0.8"/>
<line x1="591.7" y1="638.2" x2="591.7" y2="654.2" stroke-width="0.8"/>
<line x1="593.9" y1="639.4" x2="593.9" y2="655.4" stroke-width="0.8"/>
<line x1="596.1" y1="640.6" x2="596.1" y2="656.6" stroke-width="0.8"/>
<line x1="598.3" y1="641.8" x2="598.3" y2="657.8" stroke-width="0.8"/>
<line x1="600.5" y1="643.0" x2="600.5" y2="659.0" stroke-width="0.8"/>
<line x1="602.7" y1="644.2" x2="602.7" y2="660.2" stroke-width="0.8"/>
<polyline points="586,636 604,630 606,635 606,660" stroke-width="0.9"/>
</g><text class="tt" x="134" y="268.5">GS..AM..</text>
<text class="tt" x="503" y="270.5">GS..Y..</text>

</svg></body></html>
